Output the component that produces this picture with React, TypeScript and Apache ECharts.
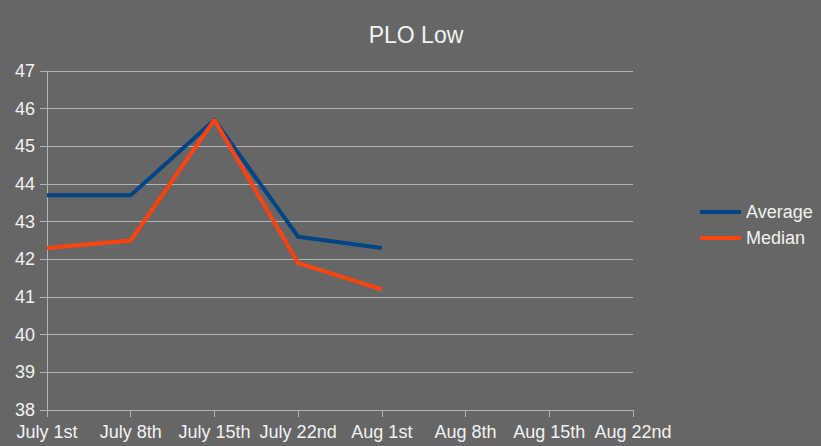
import React, { useEffect, useRef } from "react";
import * as echarts from "echarts";

const categories = ["July 1st", "July 8th", "July 15th", "July 22nd", "Aug 1st", "Aug 8th", "Aug 15th", "Aug 22nd"];
const averageValues: (number | null)[] = [43.7, 43.7, 45.7, 42.6, 42.3, null, null, null];
const medianValues: (number | null)[] = [42.3, 42.5, 45.7, 41.9, 41.2, null, null, null];
const seriesNames = ["Average", "Median"];
const title = "PLO Low";

export default function App() {
  const ref = useRef<HTMLDivElement>(null);
  useEffect(() => {
    document.body.style.margin = "0";
    const chart = echarts.init(ref.current!, null, { renderer: "svg" });
    const textColor = "#f2f2f2";
    const gridColor = "#b3b3b3";
    const font = "Liberation Sans, Arial, sans-serif";
    chart.setOption({
      animation: false,
      backgroundColor: "#666666",
      textStyle: { fontFamily: font },
      title: {
        text: title,
        left: 411,
        textAlign: "center",
        top: 18,
        textStyle: { color: textColor, fontSize: 23, fontWeight: "normal", fontFamily: font },
      },
      legend: {
        orient: "vertical",
        left: 695,
        top: 198,
        itemWidth: 41,
        itemHeight: 4,
        itemGap: 8,
        icon: "rect",
        textStyle: { color: textColor, fontSize: 18, fontFamily: font },
        data: seriesNames,
      },
      grid: { left: 47, right: 188, top: 71, bottom: 36 },
      xAxis: {
        type: "category",
        data: categories,
        boundaryGap: false,
        axisLine: { lineStyle: { color: gridColor, width: 1 } },
        axisTick: { show: true, length: 7, lineStyle: { color: gridColor } },
        axisLabel: { color: textColor, fontSize: 18, margin: 13, interval: 0, fontFamily: font },
        splitLine: { show: false },
      },
      yAxis: {
        type: "value",
        min: 38,
        max: 47,
        interval: 1,
        axisLine: { show: true, lineStyle: { color: gridColor, width: 1 } },
        axisTick: { show: true, length: 7, lineStyle: { color: gridColor } },
        axisLabel: { color: textColor, fontSize: 18, margin: 12, fontFamily: font },
        splitLine: { show: true, lineStyle: { color: gridColor, width: 1 } },
      },
      series: [
        {
          name: seriesNames[0],
          type: "line",
          data: averageValues,
          symbol: "none",
          lineStyle: { color: "#004586", width: 4 },
          itemStyle: { color: "#004586" },
        },
        {
          name: seriesNames[1],
          type: "line",
          data: medianValues,
          symbol: "none",
          lineStyle: { color: "#ff420e", width: 4 },
          itemStyle: { color: "#ff420e" },
        },
      ],
    });
    return () => chart.dispose();
  }, []);
  return <div ref={ref} style={{ width: 821, height: 446 }} />;
}
